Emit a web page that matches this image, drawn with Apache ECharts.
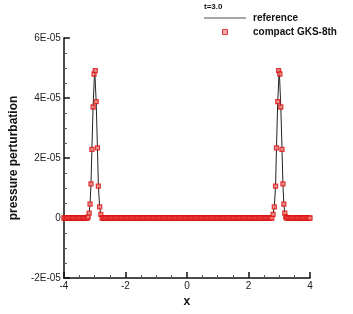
<!DOCTYPE html>
<html><head><meta charset="utf-8">
<script src="https://cdn.jsdelivr.net/npm/echarts@6/dist/echarts.min.js"></script>
<style>html,body{margin:0;padding:0;background:#fff}#c{width:353px;height:314px}</style>
</head><body><div id="c"></div>
<script>
// y values in units of 1E-05
var SCALE = 1e-5;
var flatLeftX = [-4.00,-3.96,-3.92,-3.88,-3.84,-3.80,-3.76,-3.72,-3.68,-3.64,-3.60,-3.56,-3.52,-3.48,-3.44,-3.40,-3.36,-3.32,-3.28,-3.24];
var leftPeakX = [-3.21,-3.18,-3.15,-3.12,-3.09,-3.05,-3.02,-2.98,-2.95,-2.91,-2.88,-2.84,-2.80];
var leftPeakY = [0.04,0.16,0.46,1.14,2.29,3.70,4.80,4.91,3.88,2.34,1.06,0.37,0.12];
var flatMidX = [-2.76,-2.72,-2.68,-2.64,-2.60,-2.56,-2.52,-2.48,-2.44,-2.40,-2.36,-2.32,-2.28,-2.24,-2.20,-2.16,-2.12,-2.08,-2.04,
  -2.00,-1.96,-1.92,-1.88,-1.84,-1.80,-1.76,-1.72,-1.68,-1.64,-1.60,-1.56,-1.52,-1.48,-1.44,-1.40,-1.36,-1.32,-1.28,-1.24,-1.20,-1.16,-1.12,-1.08,-1.04,
  -1.00,-0.96,-0.92,-0.88,-0.84,-0.80,-0.76,-0.72,-0.68,-0.64,-0.60,-0.56,-0.52,-0.48,-0.44,-0.40,-0.36,-0.32,-0.28,-0.24,-0.20,-0.16,-0.12,-0.08,-0.04,
  0.00,0.04,0.08,0.12,0.16,0.20,0.24,0.28,0.32,0.36,0.40,0.44,0.48,0.52,0.56,0.60,0.64,0.68,0.72,0.76,0.80,0.84,0.88,0.92,0.96,
  1.00,1.04,1.08,1.12,1.16,1.20,1.24,1.28,1.32,1.36,1.40,1.44,1.48,1.52,1.56,1.60,1.64,1.68,1.72,1.76,1.80,1.84,1.88,1.92,1.96,
  2.00,2.04,2.08,2.12,2.16,2.20,2.24,2.28,2.32,2.36,2.40,2.44,2.48,2.52,2.56,2.60,2.64,2.68,2.72,2.76];
var rightPeakX = [2.80,2.84,2.88,2.91,2.95,2.98,3.02,3.05,3.09,3.12,3.15,3.18,3.21];
var rightPeakY = [0.12,0.37,1.06,2.34,3.88,4.91,4.80,3.70,2.29,1.14,0.46,0.16,0.04];
var flatRightX = [3.24,3.28,3.32,3.36,3.40,3.44,3.48,3.52,3.56,3.60,3.64,3.68,3.72,3.76,3.80,3.84,3.88,3.92,3.96,4.00];

var refX = [-4,-3.24,-3.21,-3.18,-3.15,-3.12,-3.09,-3.05,-3.0,-2.95,-2.91,-2.88,-2.84,-2.80,-2.77,-2.74,
  2.74,2.77,2.80,2.84,2.88,2.91,2.95,3.0,3.05,3.09,3.12,3.15,3.18,3.21,3.24,4];
var refY = [0,0,0.04,0.16,0.46,1.12,2.30,3.75,4.95,3.85,2.32,1.08,0.38,0.12,0.03,0,
  0,0.03,0.12,0.38,1.08,2.32,3.85,4.95,3.75,2.30,1.12,0.46,0.16,0.04,0,0];

var xTicks = [-4,-2,0,2,4];
var yTicks = ['-2E-05','0','2E-05','4E-05','6E-05'];

function pairs(xs, ys){ return xs.map(function(x,i){ return [x, ys ? ys[i]*SCALE : 0]; }); }
var markData = [].concat(pairs(flatLeftX), pairs(leftPeakX,leftPeakY), pairs(flatMidX),
  pairs(rightPeakX,rightPeakY), pairs(flatRightX));
var refData = pairs(refX, refY);

var FONT = '"Liberation Sans", Arial, sans-serif';
var chart = echarts.init(document.getElementById('c'), null, {renderer:'canvas'});
chart.setOption({
  animation:false,
  backgroundColor:'#fff',
  title:{text:'t=3.0', left:204, top:3, padding:0, textStyle:{fontSize:8, fontWeight:'bold', color:'#111', fontFamily:FONT}},
  legend:{
    orient:'vertical', left:204, top:12, padding:0, itemWidth:42, itemHeight:5, itemGap:2,
    symbolKeepAspect:true,
    textStyle:{fontSize:10, fontWeight:'bold', color:'#111', fontFamily:FONT, padding:[1,0,0,2], lineHeight:11},
    data:[
      {name:'reference', icon:'path://M0,0H42V1.5H0Z', itemStyle:{color:'#888', borderWidth:0}},
      {name:'compact GKS-8th', icon:'path://M0,0H1V1H0Z', itemStyle:{color:'#f39090', borderColor:'#dd1111', borderWidth:1}}
    ]
  },
  grid:{left:46, right:43, top:38, bottom:36, containLabel:false},
  xAxis:{
    type:'value', min:xTicks[0], max:xTicks[xTicks.length-1], interval:2,
    name:'x', nameLocation:'middle', nameGap:12,
    nameTextStyle:{fontSize:12, fontWeight:'bold', color:'#111', fontFamily:FONT},
    axisLine:{onZero:false, lineStyle:{color:'#111', width:1.5}},
    axisTick:{inside:true, length:6, lineStyle:{color:'#111', width:1.5}},
    minorTick:{show:true, splitNumber:4, length:3, lineStyle:{color:'#555', width:1}},
    splitLine:{show:false},
    axisLabel:{fontSize:10, color:'#222', margin:3, fontFamily:FONT}
  },
  yAxis:{
    type:'value', min:-2e-5, max:6e-5, interval:2e-5,
    name:'pressure perturbation', nameLocation:'middle', nameGap:25, nameRotate:90,
    nameTextStyle:{fontSize:12, fontWeight:'bold', color:'#111', fontFamily:FONT},
    axisLine:{show:true, onZero:false, lineStyle:{color:'#111', width:1.5}},
    axisTick:{show:true, inside:true, length:6, lineStyle:{color:'#111', width:1.5}},
    minorTick:{show:true, splitNumber:4, length:3, lineStyle:{color:'#555', width:1}},
    splitLine:{show:false},
    axisLabel:{fontSize:10, color:'#222', margin:3, fontFamily:FONT,
      formatter:function(v){ var i = Math.round(v/2e-5)+1; return yTicks[i]; }}
  },
  series:[
    {name:'reference', type:'line', data:refData, symbol:'none', z:2,
     lineStyle:{color:'#222', width:1}, itemStyle:{color:'#888'}},
    {name:'compact GKS-8th', type:'scatter', data:markData, symbol:'rect', symbolSize:4, z:3,
     itemStyle:{color:'#f39090', borderColor:'#dd1111', borderWidth:1.3}}
  ]
});
</script></body></html>
